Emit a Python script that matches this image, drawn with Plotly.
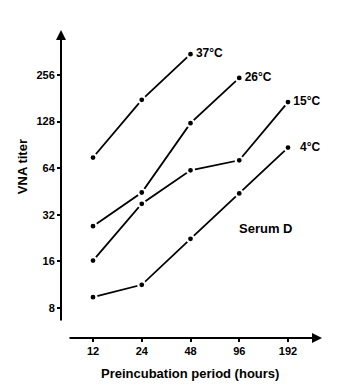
import plotly.graph_objects as go

hours = [12, 24, 48, 96, 192]
tick_vals_y = [8, 16, 32, 64, 128, 256]

series = {
    "37°C": [75, 177, 349],
    "26°C": [27, 44.6, 125, 245],
    "15°C": [16.2, 37.7, 62, 72, 171],
    "4°C": [9.4, 11.3, 22.4, 44, 87],
}

FONT = "Liberation Sans, Arial, sans-serif"

fig = go.Figure()
for name, vals in series.items():
    xs = hours[:len(vals)]
    labels = [""] * (len(vals) - 1) + [("  " if name == "4°C" else "") + name]
    fig.add_trace(go.Scatter(
        x=xs, y=vals, mode="lines+markers+text",
        text=labels, textposition="middle right",
        textfont=dict(family=FONT, size=12, color="black", weight="bold"),
        line=dict(color="black", width=1.8),
        marker=dict(color="black", size=7, line=dict(color="white", width=2.2)),
        showlegend=False, cliponaxis=False,
    ))

fig.update_layout(
    width=351, height=387,
    margin=dict(l=61, r=29, t=30, b=49),
    plot_bgcolor="white", paper_bgcolor="white",
    font=dict(family=FONT, color="black"),
    xaxis=dict(type="log", range=[0.8815, 2.4933], tickvals=hours,
               ticktext=[str(h) for h in hours], showgrid=False, zeroline=False,
               showline=False, ticks="outside", ticklen=3, tickwidth=1.5,
               tickcolor="black",
               tickfont=dict(family=FONT, size=11, weight="bold")),
    yaxis=dict(type="log", range=[0.7093, 2.6989], tickvals=tick_vals_y,
               ticktext=[str(v) for v in tick_vals_y], showgrid=False,
               zeroline=False, showline=False, ticks="outside", ticklen=3,
               tickwidth=1.5, tickcolor="black",
               tickfont=dict(family=FONT, size=11, weight="bold")),
    annotations=[
        dict(xref="paper", yref="paper", x=0, y=1, ax=0, ay=292,
             showarrow=True, arrowhead=2, arrowsize=1, arrowwidth=2,
             arrowcolor="black", text=""),
        dict(xref="paper", yref="paper", x=1, y=0, ax=-254, ay=0,
             showarrow=True, arrowhead=2, arrowsize=1, arrowwidth=2,
             arrowcolor="black", text=""),
        dict(xref="paper", yref="paper", x=-0.149, y=0.555, text="VNA titer",
             xanchor="center", yanchor="middle",
             textangle=-90, showarrow=False,
             font=dict(family=FONT, size=13, weight="bold")),
        dict(xref="paper", yref="paper", x=0.494, y=-0.114,
             xanchor="center", yanchor="middle",
             text="Preincubation period (hours)", showarrow=False,
             font=dict(family=FONT, size=13, weight="bold")),
        dict(xref="paper", yref="paper", x=0.785, y=0.357, text="Serum D",
             xanchor="center", yanchor="middle",
             showarrow=False, font=dict(family=FONT, size=13, weight="bold")),
    ],
)

fig.write_html("out.html")
